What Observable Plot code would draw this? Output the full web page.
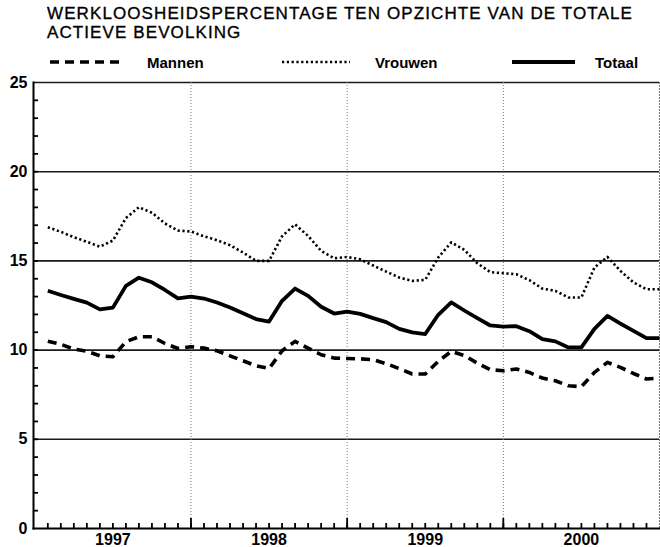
<!DOCTYPE html>
<html>
<head>
<meta charset="utf-8">
<script src="https://cdn.jsdelivr.net/npm/d3@7"></script>
<script src="https://cdn.jsdelivr.net/npm/@observablehq/plot@0.6"></script>
<style>
  html, body { margin: 0; padding: 0; background: #fff; }
  body { width: 660px; height: 547px; overflow: hidden; font-family: "Liberation Sans", Arial, sans-serif; color: #000; }
  #head { position: relative; height: 72px; }
  .title { position: absolute; left: 47px; font-size: 17px; line-height: 19px; height: 19px; white-space: nowrap; letter-spacing: 1.1px; -webkit-text-stroke: 0.35px #000; }
  .lg-text { position: absolute; top: 55px; font-size: 15px; line-height: 15px; font-weight: bold; white-space: nowrap; }
  .lg-line { position: absolute; top: 56px; }
  #chart svg { display: block; }
</style>
</head>
<body>
<div id="head">
  <div class="title" style="top:4px">WERKLOOSHEIDSPERCENTAGE TEN OPZICHTE VAN DE TOTALE</div>
  <div class="title" style="top:23px">ACTIEVE BEVOLKING</div>
</div>
<div id="chart"></div>
<script>
// ---- data (monthly, Jan 1997 .. Dec 2000) ----
const months = d3.range(1, 49);
const mannen = [
  10.5, 10.32, 10.06, 9.94, 9.68, 9.63, 10.47, 10.75, 10.75, 10.37, 10.09, 10.19,
  10.11, 9.96, 9.68, 9.4, 9.12, 8.97, 9.96, 10.49, 10.11, 9.74, 9.55, 9.53,
  9.51, 9.46, 9.24, 8.96, 8.66, 8.66, 9.37, 9.93, 9.7, 9.27, 8.9, 8.84,
  8.94, 8.75, 8.43, 8.28, 8.0, 7.95, 8.75, 9.31, 9.03, 8.69, 8.38, 8.43
];
const vrouwen = [
  16.89, 16.63, 16.33, 16.07, 15.8, 16.14, 17.4, 18.01, 17.7, 17.1, 16.7, 16.65,
  16.38, 16.16, 15.88, 15.47, 15.0, 15.0, 16.38, 17.05, 16.4, 15.56, 15.15, 15.22,
  15.09, 14.74, 14.4, 14.07, 13.88, 13.94, 15.19, 16.04, 15.62, 14.87, 14.37, 14.31,
  14.25, 13.92, 13.45, 13.32, 12.95, 12.95, 14.63, 15.22, 14.44, 13.79, 13.41, 13.41
];
const totaal = [
  13.33, 13.09, 12.87, 12.66, 12.28, 12.38, 13.6, 14.06, 13.8, 13.37, 12.9, 13.0,
  12.89, 12.67, 12.39, 12.07, 11.74, 11.6, 12.76, 13.45, 13.04, 12.43, 12.05, 12.16,
  12.03, 11.79, 11.57, 11.19, 10.99, 10.9, 11.98, 12.67, 12.22, 11.79, 11.38, 11.32,
  11.34, 11.06, 10.62, 10.49, 10.15, 10.15, 11.19, 11.92, 11.49, 11.08, 10.67, 10.67
];
const seriesNames = ["Mannen", "Vrouwen", "Totaal"];
const yearLabels = ["1997", "1998", "1999", "2000"];
const yearMid = [6, 18, 30, 42];
const yearBounds = [12, 24, 36];
const yTickLabels = [0, 5, 10, 15, 20, 25];
const yGrid = [5, 10, 15, 20, 25];
const monthTicks = d3.range(1, 48);
const yMinorTicks = d3.range(1, 25);

// ---- styles (not data) ----
const styles = {
  Mannen:  {strokeWidth: 3.6, strokeDasharray: "9,6"},
  Vrouwen: {strokeWidth: 2.6, strokeDasharray: "2.2,2.6"},
  Totaal:  {strokeWidth: 3.8, strokeDasharray: null}
};
const legendPos = {
  Mannen:  {line: [50, 120], text: 147},
  Vrouwen: {line: [282, 350], text: 375},
  Totaal:  {line: [512, 575], text: 595}
};
const xDomain = [-0.1, 48], yDomain = [0, 25];
const plotH = 475, mTop = 10, mBottom = 19;
// tick lengths expressed in y / x data units (pixel length / pixels per unit)
const yPerPx = (yDomain[1] - yDomain[0]) / (plotH - mTop - mBottom);
const xPerPx = (xDomain[1] - xDomain[0]) / (660 - 33 - 1);

// ---- legend (HTML above the SVG) ----
const head = document.getElementById("head");
for (const name of seriesNames) {
  const p = legendPos[name], s = styles[name];
  const w = p.line[1] - p.line[0];
  const svgNS = "http://www.w3.org/2000/svg";
  const sv = document.createElementNS(svgNS, "svg");
  sv.setAttribute("class", "lg-line");
  sv.setAttribute("width", w);
  sv.setAttribute("height", 12);
  sv.style.left = p.line[0] + "px";
  const ln = document.createElementNS(svgNS, "line");
  ln.setAttribute("x1", 0); ln.setAttribute("x2", w);
  ln.setAttribute("y1", 6); ln.setAttribute("y2", 6);
  ln.setAttribute("stroke", "#000");
  ln.setAttribute("stroke-width", s.strokeWidth);
  if (s.strokeDasharray) ln.setAttribute("stroke-dasharray", s.strokeDasharray);
  sv.appendChild(ln);
  head.appendChild(sv);
  const t = document.createElement("div");
  t.className = "lg-text";
  t.style.left = p.text + "px";
  t.textContent = name;
  head.appendChild(t);
}

// ---- chart ----
const valuesBySeries = {Mannen: mannen, Vrouwen: vrouwen, Totaal: totaal};
const lineMarks = seriesNames.map(name =>
  Plot.line(months.map((m, i) => ({m, v: valuesBySeries[name][i]})), {
    x: "m", y: "v", stroke: "#000",
    strokeWidth: styles[name].strokeWidth,
    strokeDasharray: styles[name].strokeDasharray,
    strokeLinejoin: "round",
    strokeLinecap: "butt"
  })
);

const chart = Plot.plot({
  width: 660,
  height: plotH,
  marginLeft: 33,
  marginRight: 1,
  marginTop: mTop,
  marginBottom: mBottom,
  style: {fontFamily: "'Liberation Sans', Arial, sans-serif", background: "#fff", color: "#000", overflow: "visible"},
  x: {domain: xDomain, axis: null},
  y: {domain: yDomain, axis: null},
  marks: [
    Plot.ruleY(yGrid, {stroke: "#1a1a1a", strokeWidth: 1.6}),
    Plot.ruleX(yearBounds, {stroke: "#777", strokeWidth: 1, strokeDasharray: "1,2"}),
    Plot.frame({anchor: "right", stroke: "#777", strokeWidth: 1, strokeDasharray: "1,2"}),
    // inward ticks
    Plot.ruleX(monthTicks, {x: d => d, y1: 0, y2: 5 * yPerPx, stroke: "#000", strokeWidth: 1.8}),
    Plot.ruleX(yearBounds, {x: d => d, y1: 0, y2: 10 * yPerPx, stroke: "#000", strokeWidth: 1.8}),
    Plot.ruleY(yMinorTicks, {y: d => d, x1: xDomain[0], x2: xDomain[0] + 5 * xPerPx, stroke: "#000", strokeWidth: 1.8}),
    Plot.frame({anchor: "left", stroke: "#000", strokeWidth: 2}),
    Plot.frame({anchor: "bottom", stroke: "#000", strokeWidth: 2}),
    Plot.text(yearMid.map((m, i) => ({m, label: yearLabels[i]})), {
      x: "m", text: "label", frameAnchor: "bottom", lineAnchor: "top", dy: 5,
      fontSize: 16, fontWeight: "bold", fill: "#000"
    }),
    Plot.text(yTickLabels, {
      y: d => d, text: d => String(d), frameAnchor: "left", textAnchor: "end", dx: -6,
      fontSize: 16, fontWeight: "bold", fill: "#000"
    }),
    ...lineMarks
  ]
});
document.getElementById("chart").appendChild(chart);
</script>
</body>
</html>
